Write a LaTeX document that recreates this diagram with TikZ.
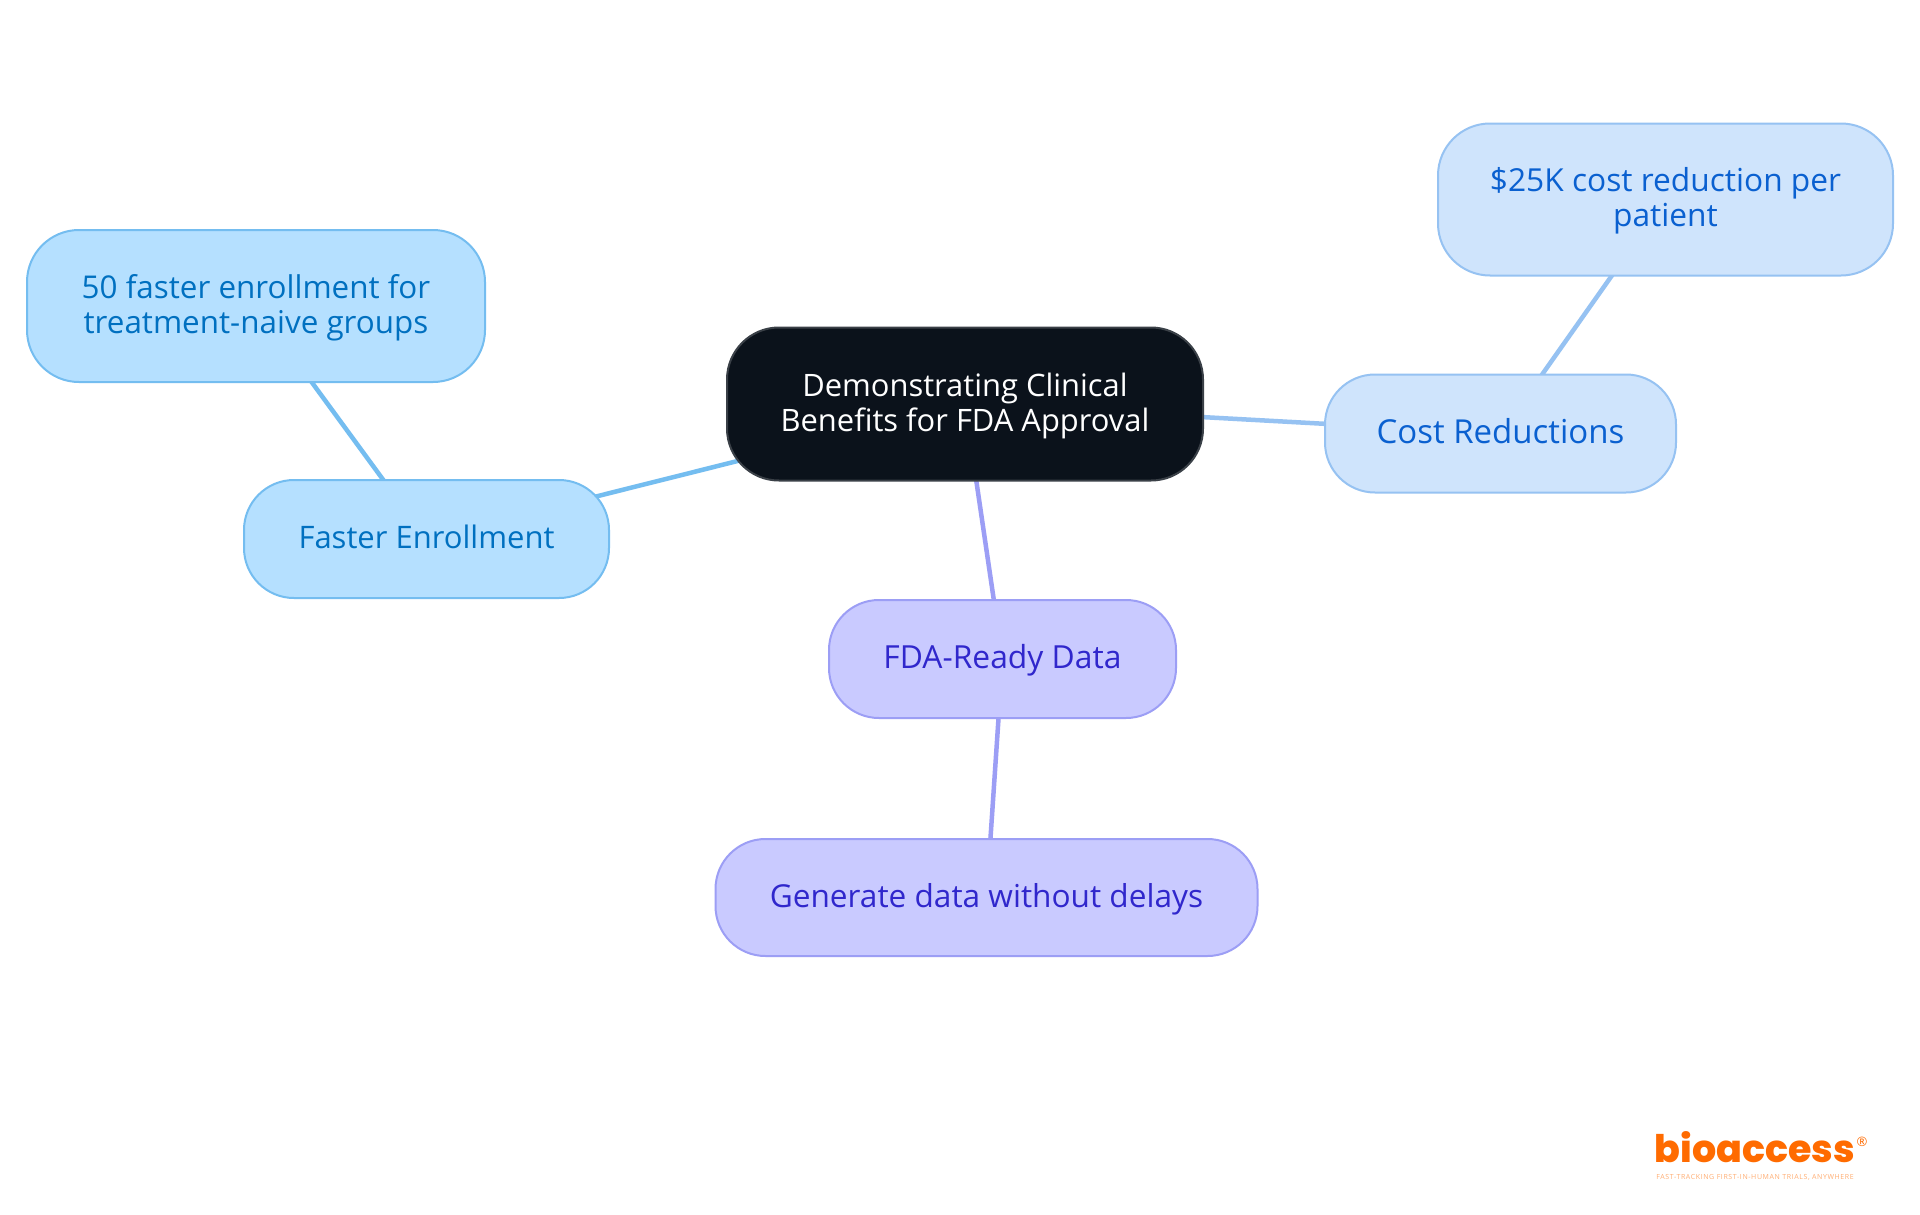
\documentclass[tikz,border=0pt]{standalone}
\usepackage{fontspec}
\setmainfont{Open Sans}
\newfontfamily\logofont{Poppins}[UprightFont=* ExtraBold]
\newfontfamily\tagfont{Open Sans}[LetterSpace=8.6]
\usetikzlibrary{backgrounds}
\definecolor{cenfill}{HTML}{0B121B}
\definecolor{cenline}{HTML}{3A4047}
\definecolor{costfill}{HTML}{CFE4FC}
\definecolor{costline}{HTML}{96C2F2}
\definecolor{costtext}{HTML}{0A60D0}
\definecolor{fastfill}{HTML}{B5E0FF}
\definecolor{fastline}{HTML}{74BDF0}
\definecolor{fasttext}{HTML}{0070C0}
\definecolor{fdafill}{HTML}{C9CAFF}
\definecolor{fdaline}{HTML}{9C9EF5}
\definecolor{fdatext}{HTML}{3027CC}
\definecolor{logoorange}{HTML}{FF6B00}
\newcommand{\toprow}{\rule{0pt}{27pt}}
\newcommand{\sized}[1]{\fontsize{#1}{35}\selectfont}
\tikzset{
  box/.style={draw,line width=2pt,rounded corners=#1,inner sep=0pt,align=center,
    font=\fontsize{31}{35}\selectfont},
  oneline/.style={text height=25pt,text depth=6pt},
  cen/.style={box=52pt,fill=cenfill,draw=cenline,text=white,minimum width=476pt,minimum height=153pt},
  cost/.style={fill=costfill,draw=costline,text=costtext},
  fast/.style={fill=fastfill,draw=fastline,text=fasttext},
  fda/.style={fill=fdafill,draw=fdaline,text=fdatext},
  wire/.style={line width=4.5pt},
}
\begin{document}
\begin{tikzpicture}[x=1pt,y=-1pt]
\useasboundingbox (0,0) rectangle (1920,1215);
\node[cen,font=\sized{30.9}] (center) at (965,404) {\toprow Demonstrating Clinical\\Benefits for FDA Approval};
\node[box=50pt,cost,oneline,font=\sized{33},minimum width=351pt,minimum height=118pt] (costred) at (1500.5,433.5) {Cost Reductions};
\node[box=52pt,cost,font=\sized{31.7},minimum width=455pt,minimum height=152pt] (costper) at (1665.5,199.5) {\toprow \$25K cost reduction per\\patient};
\node[box=50pt,fast,oneline,minimum width=365pt,minimum height=118pt] (faster) at (426.5,539) {Faster Enrollment};
\node[box=52pt,fast,font=\sized{31.4},minimum width=458pt,minimum height=152pt] (fiftyf) at (256,306) {\toprow 50 faster enrollment for\\treatment-naive groups};
\node[box=50pt,fda,oneline,font=\sized{31.8},minimum width=347pt,minimum height=118pt] (fdadata) at (1002.5,659) {FDA-Ready Data};
\node[box=50pt,fda,oneline,font=\sized{31.6},minimum width=542pt,minimum height=117pt] (gendata) at (986.5,897.5) {Generate data without delays};
\begin{scope}[on background layer]
\fill[white] (0,0) rectangle (1920,1215);
\draw[wire,fastline] (center.center) -- (faster.center);
\draw[wire,fastline] (faster.center) -- (fiftyf.center);
\draw[wire,costline] (center.center) -- (costred.center);
\draw[wire,costline] (costred.center) -- (costper.center);
\draw[wire,fdaline] (center.center) -- (fdadata.center);
\draw[wire,fdaline] (fdadata.center) -- (gendata.center);
\end{scope}
\node[inner sep=0pt,anchor=base,text=logoorange,font=\logofont\fontsize{38}{38}\selectfont] (logo) at (1755,1162) {bioaccess};
\node[inner sep=0pt,text=logoorange,font=\fontsize{13}{13}\selectfont] (logomark) at (1862,1142) {®};
\node[inner sep=0pt,text=logoorange!55,font=\tagfont\fontsize{7}{7}\selectfont] (tagline) at (1755,1177) {FAST-TRACKING FIRST-IN-HUMAN TRIALS, ANYWHERE};
\end{tikzpicture}
\end{document}
